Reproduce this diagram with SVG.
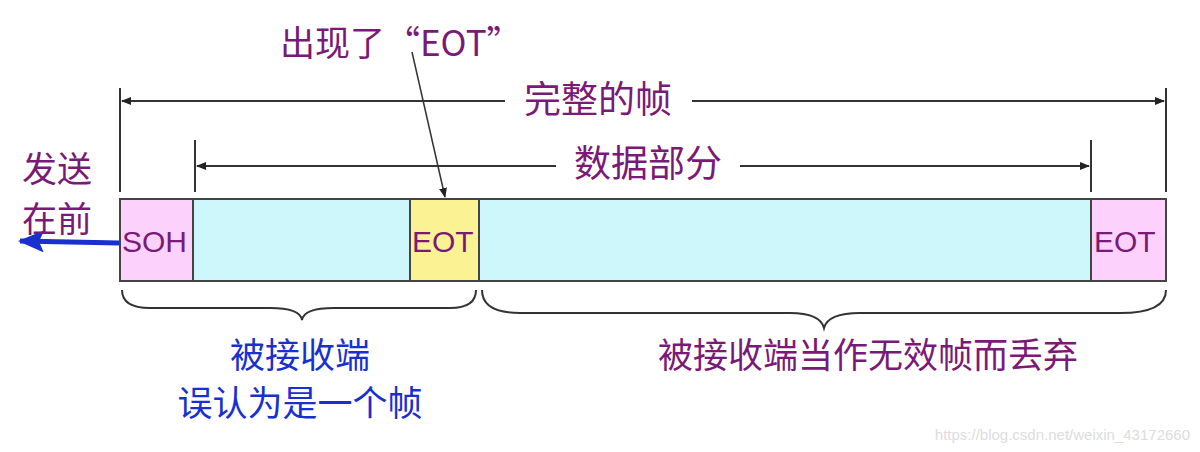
<svg xmlns="http://www.w3.org/2000/svg" width="1200" height="452" viewBox="0 0 1200 452">
<style>
.t{font-family:"Noto Sans CJK SC","Liberation Sans",sans-serif;fill:#7a1a78}
.b{font-family:"Noto Sans CJK SC",sans-serif;fill:#1a2fd0}
.l{stroke:#333;stroke-width:2;fill:none}
.box{stroke:#444;stroke-width:2}
.f{font-family:"Liberation Sans",sans-serif;fill:#7a1a78;font-size:30px}
</style>
<defs>
<marker id="a" markerWidth="10" markerHeight="8" refX="9" refY="4" orient="auto" markerUnits="userSpaceOnUse"><path d="M0,0 L10,4 L0,8 z" fill="#222"/></marker>
<marker id="bl" markerWidth="26" markerHeight="22" refX="24" refY="11" orient="auto" markerUnits="userSpaceOnUse"><path d="M0,0 L26,11 L0,22 L5,11 z" fill="#1a2fd0"/></marker>
</defs>
<rect width="1200" height="452" fill="#fff"/>
<g id="connectors">
<path class="l" d="M120,88V192M1166,88V192M195,140V192M1091,140V192"/>
<line class="l" x1="505" y1="101" x2="122" y2="101" marker-end="url(#a)"/>
<line class="l" x1="692" y1="101" x2="1164" y2="101" marker-end="url(#a)"/>
<line class="l" x1="556" y1="166" x2="197" y2="166" marker-end="url(#a)"/>
<line class="l" x1="740" y1="166" x2="1089" y2="166" marker-end="url(#a)"/>
<line stroke="#333" stroke-width="1.5" x1="412" y1="52" x2="445" y2="197" marker-end="url(#a)"/>
<line stroke="#1a2fd0" stroke-width="5" x1="119" y1="243" x2="20" y2="241" marker-end="url(#bl)"/>
<path class="l" d="M122,290 Q122,308 150,308 L270,308 Q300,308 302,320 Q304,308 334,308 L450,308 Q476,308 476,290"/>
<path class="l" d="M482,290 Q482,313 520,313 L790,313 Q820,313 824,328 Q828,313 860,313 L1120,313 Q1166,313 1166,290"/>
</g>
<g id="soh"><rect class="box" x="120" y="199" width="73" height="82" fill="#fcd2fc"/><text class="f" x="122" y="252">SOH</text></g>
<g id="data1"><rect class="box" x="193" y="199" width="217" height="82" fill="#cdf7fb"/></g>
<g id="eot1"><rect class="box" x="410" y="199" width="69" height="82" fill="#fbf393"/><text class="f" x="412" y="252">EOT</text></g>
<g id="data2"><rect class="box" x="479" y="199" width="612" height="82" fill="#cdf7fb"/></g>
<g id="eot2"><rect class="box" x="1091" y="199" width="75" height="82" fill="#fcd2fc"/><text class="f" x="1094" y="252">EOT</text></g>
<g id="labels">
<text class="t" x="280" y="56" font-size="35">出现了“EOT”</text>
<text class="t" x="598" y="113" font-size="37" text-anchor="middle">完整的帧</text>
<text class="t" x="648" y="177" font-size="37" text-anchor="middle">数据部分</text>
<text class="t" x="22" y="182" font-size="35">发送</text>
<text class="t" x="22" y="232" font-size="35">在前</text>
<text class="b" x="300" y="368" font-size="35" text-anchor="middle">被接收端</text>
<text class="b" x="300" y="416" font-size="35" text-anchor="middle">误认为是一个帧</text>
<text class="t" x="868" y="368" font-size="35" text-anchor="middle">被接收端当作无效帧而丢弃</text>
<text x="1190" y="440" font-family="Liberation Sans,sans-serif" font-size="15" fill="#ddd" text-anchor="end">https://blog.csdn.net/weixin_43172660</text>
</g>
</svg>
